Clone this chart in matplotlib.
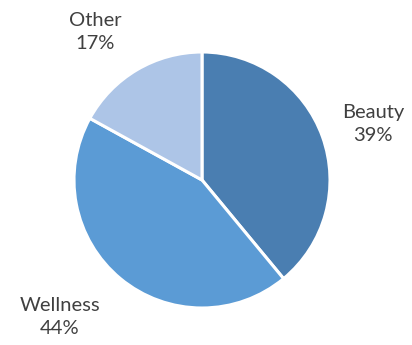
import matplotlib

matplotlib.use("Agg")
import matplotlib.pyplot as plt

categories = ["Beauty", "Wellness", "Other"]
shares = [39, 44, 17]
colors = ["#4a7eb1", "#5b9bd5", "#adc5e7"]

# label anchor points in pixel space (x right, y down from top)
label_pos = {"Beauty": (373, 124), "Wellness": (60, 317), "Other": (95, 32)}

W, H = 412, 345
fig = plt.figure(figsize=(W / 100, H / 100), dpi=100)
ax = fig.add_axes([0, 0, 1, 1])
ax.set_xlim(0, W)
ax.set_ylim(0, H)
ax.set_aspect("equal")
ax.axis("off")

ax.pie(shares, colors=colors, startangle=90, counterclock=False,
       center=(202, H - 180), radius=128,
       wedgeprops=dict(edgecolor="white", linewidth=2.2))
ax.set_xlim(0, W)
ax.set_ylim(0, H)

for cat, val in zip(categories, shares):
    x, y = label_pos[cat]
    ax.text(x, H - y, f"{cat}\n{val}%", ha="center", va="center",
            fontsize=14.5, color="#404040", family="Lato", linespacing=1.4)

fig.savefig("out.png", dpi=100)
